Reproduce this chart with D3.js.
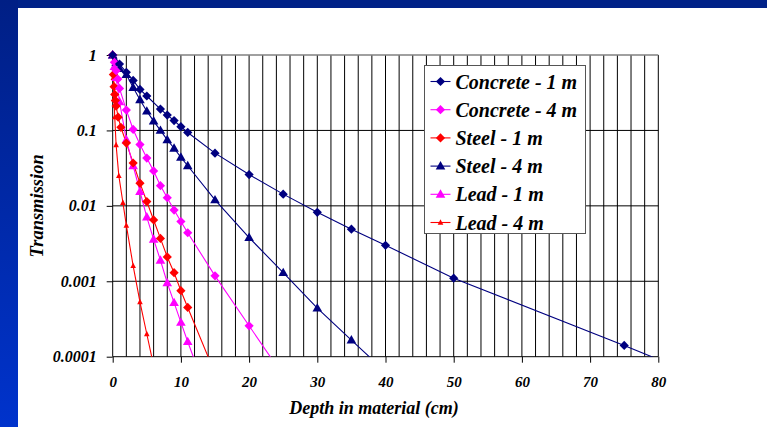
<!DOCTYPE html>
<html>
<head>
<meta charset="utf-8">
<script src="https://cdn.jsdelivr.net/npm/d3@7"></script>
<style>
  body { margin: 0; background: #fff; }
  svg text { font-family: "Liberation Serif", "Times New Roman", serif; font-weight: bold; font-style: italic; fill: #000; }
</style>
</head>
<body>
<div id="chart"></div>
<script>
// data: [depth (cm), transmission]
var concrete1 = [[0,1],[1,0.76],[2,0.59],[3,0.46],[4,0.35],[5,0.286],[7,0.192],[8,0.16],[9,0.135],[10,0.112],[11,0.094],[15,0.05],[20,0.026],[25,0.0143],[30,0.0082],[35,0.0049],[40,0.003],[50,0.0011],[75,0.000141],[80,0.000092]];
var concrete4 = [[0,1],[0.25,0.8],[0.5,0.62],[0.75,0.48],[1,0.36],[2,0.186],[3,0.103],[4,0.065],[5,0.043],[6,0.029],[7,0.0185],[8,0.0128],[9,0.0088],[10,0.0062],[11,0.0044],[15,0.00118],[20,0.000257],[25,0.000056]];
var steel1 = [[0,1],[0.1,0.55],[0.2,0.38],[0.3,0.3],[0.4,0.25],[0.5,0.21],[0.8,0.15],[1.2,0.11],[2,0.068],[3,0.037],[4,0.02],[5,0.0114],[6,0.0065],[7,0.0037],[8,0.0021],[9,0.0013],[10,0.00075],[11,0.00045],[15,0.00006]];
var steel4 = [[0,1],[0.5,0.8],[1,0.66],[2,0.55],[3,0.37],[4,0.255],[5,0.18],[6,0.133],[7,0.1],[8,0.075],[9,0.058],[10,0.044],[11,0.034],[15,0.012],[20,0.0038],[25,0.0013],[30,0.00044],[35,0.000166],[40,0.000063]];
var lead1 = [[0,1],[0.25,0.7],[0.5,0.5],[1,0.24],[2,0.075],[3,0.034],[4,0.0155],[5,0.0071],[6,0.0036],[7,0.0019],[8,0.00095],[9,0.00052],[10,0.000285],[11,0.000158],[12,0.00009]];
var lead4 = [[0,1],[0.1,0.5],[0.2,0.26],[0.3,0.15],[0.5,0.064],[0.9,0.025],[1.5,0.011],[2,0.0055],[3,0.0016],[4,0.00053],[5,0.0002],[6,0.000076]];

var seriesNames = ["Concrete - 1 m", "Concrete - 4 m", "Steel - 1 m", "Steel - 4 m", "Lead - 1 m", "Lead - 4 m"];
var seriesData = [concrete1, concrete4, steel1, steel4, lead1, lead4];
var seriesColors = ["#000080", "#ff00ff", "#ff0000", "#000080", "#ff00ff", "#ff0000"];
var seriesMarkers = ["diamond", "diamond", "diamond", "triangle", "triangle", "smalltri"];

var xTicks = [0, 10, 20, 30, 40, 50, 60, 70, 80];
var yTicks = [1, 0.1, 0.01, 0.001, 0.0001];
var yTickLabels = ["1", "0.1", "0.01", "0.001", "0.0001"];

var W = 767, H = 427;
var PLOT = { left: 112.7, right: 658.3, top: 55, bottom: 356.7 };

var svg = d3.select("#chart").append("svg")
  .attr("width", W)
  .attr("height", H);

// slide background: blue bars
var defs = svg.append("defs");
var grad = defs.append("linearGradient")
  .attr("id", "sideGrad").attr("x1", 0).attr("y1", 0).attr("x2", 0).attr("y2", 1);
grad.append("stop").attr("offset", "0%").attr("stop-color", "#001f85");
grad.append("stop").attr("offset", "100%").attr("stop-color", "#0033cc");
svg.append("rect").attr("x", 0).attr("y", 0).attr("width", W).attr("height", 8).attr("fill", "#002288");
svg.append("rect").attr("x", 0).attr("y", 0).attr("width", 18).attr("height", H).attr("fill", "url(#sideGrad)");

defs.append("clipPath").attr("id", "plotClip")
  .append("rect")
  .attr("x", PLOT.left).attr("y", PLOT.top)
  .attr("width", PLOT.right - PLOT.left).attr("height", PLOT.bottom - PLOT.top);

var x = d3.scaleLinear().domain([0, 80]).range([PLOT.left, PLOT.right]);
var y = d3.scaleLog().domain([0.0001, 1]).range([PLOT.bottom, PLOT.top]);

// gridlines
svg.append("g").selectAll("line")
  .data(d3.range(2, 81, 2))
  .enter().append("line")
  .attr("x1", function (d) { return x(d); })
  .attr("x2", function (d) { return x(d); })
  .attr("y1", PLOT.top).attr("y2", PLOT.bottom)
  .attr("stroke", "#000").attr("stroke-width", 1);

svg.append("g").selectAll("line")
  .data(yTicks.slice(1, 4))
  .enter().append("line")
  .attr("x1", PLOT.left).attr("x2", PLOT.right)
  .attr("y1", function (d) { return y(d); })
  .attr("y2", function (d) { return y(d); })
  .attr("stroke", "#000").attr("stroke-width", 1);

// plot top border
svg.append("line")
  .attr("x1", PLOT.left).attr("x2", PLOT.right)
  .attr("y1", PLOT.top).attr("y2", PLOT.top)
  .attr("stroke", "#808080").attr("stroke-width", 1.5);

// axes
var xAxis = d3.axisBottom(x).tickValues(xTicks).tickSize(6).tickFormat(d3.format("d"));
var gx = svg.append("g").attr("transform", "translate(0," + PLOT.bottom + ")").call(xAxis);
gx.select(".domain").attr("stroke", "#000").attr("d", "M" + PLOT.left + ",0H" + PLOT.right);
gx.selectAll(".tick line").attr("stroke", "#000");
gx.selectAll(".tick text").attr("y", 25).attr("dy", "0.35em").style("font-size", "15px").attr("fill", "#000");

var yAxis = d3.axisLeft(y).tickValues(yTicks).tickSize(6)
  .tickFormat(function (d, i) { return yTickLabels[i]; });
var gy = svg.append("g").attr("transform", "translate(" + PLOT.left + ",0)").call(yAxis);
gy.select(".domain").attr("stroke", "#000").attr("d", "M0," + PLOT.top + "V" + PLOT.bottom);
gy.selectAll(".tick line").attr("stroke", "#000");
gy.selectAll(".tick text").attr("x", -16).style("font-size", "16px").attr("fill", "#000");

// axis titles
svg.append("text")
  .attr("x", 374)
  .attr("y", 408)
  .attr("dy", "0.35em")
  .attr("text-anchor", "middle")
  .style("font-size", "18px")
  .text("Depth in material (cm)");

svg.append("text")
  .attr("transform", "translate(37," + ((PLOT.top + PLOT.bottom) / 2) + ") rotate(-90)")
  .attr("dy", "0.35em")
  .attr("text-anchor", "middle")
  .style("font-size", "18.5px")
  .text("Transmission");

// marker shapes
function markerPath(kind) {
  if (kind === "diamond") return "M0,-4.6L4.6,0L0,4.6L-4.6,0Z";
  if (kind === "triangle") return "M0,-5L4.8,3.4L-4.8,3.4Z";
  return "M0,-3.2L2.8,2.2L-2.8,2.2Z";
}

var line = d3.line()
  .x(function (d) { return x(d[0]); })
  .y(function (d) { return y(d[1]); });

var plot = svg.append("g");
seriesData.forEach(function (data, i) {
  plot.append("path")
    .datum(data)
    .attr("clip-path", "url(#plotClip)")
    .attr("fill", "none")
    .attr("stroke", seriesColors[i])
    .attr("stroke-width", 1.1)
    .attr("d", line);
});
// markers drawn last series first so concrete sits on top like the picture
seriesData.slice().reverse().forEach(function (data, k) {
  var i = seriesData.length - 1 - k;
  plot.append("g").selectAll("path")
    .data(data.filter(function (d) { return d[1] >= 0.0001 && d[0] <= 80; }))
    .enter().append("path")
    .attr("transform", function (d) { return "translate(" + x(d[0]) + "," + y(d[1]) + ")"; })
    .attr("d", markerPath(seriesMarkers[i]))
    .attr("fill", seriesColors[i]);
});

// legend
var LEG = { x: 424.5, y: 65.5, w: 161, h: 168 };
svg.append("rect")
  .attr("x", LEG.x).attr("y", LEG.y).attr("width", LEG.w).attr("height", LEG.h)
  .attr("fill", "#fff").attr("stroke", "#555").attr("stroke-width", 1);

var leg = svg.append("g").selectAll("g")
  .data(seriesNames)
  .enter().append("g")
  .attr("transform", function (d, i) { return "translate(" + LEG.x + "," + (81.5 + i * 28.2) + ")"; });

leg.append("line")
  .attr("x1", 6).attr("x2", 26).attr("y1", 0).attr("y2", 0)
  .attr("stroke", function (d, i) { return seriesColors[i]; })
  .attr("stroke-width", 1.1);
leg.append("path")
  .attr("transform", "translate(16,0)")
  .attr("d", function (d, i) { return markerPath(seriesMarkers[i]); })
  .attr("fill", function (d, i) { return seriesColors[i]; });
leg.append("text")
  .attr("x", 31).attr("y", 0).attr("dy", "0.35em")
  .style("font-size", "20px")
  .text(function (d) { return d; });
</script>
</body>
</html>
